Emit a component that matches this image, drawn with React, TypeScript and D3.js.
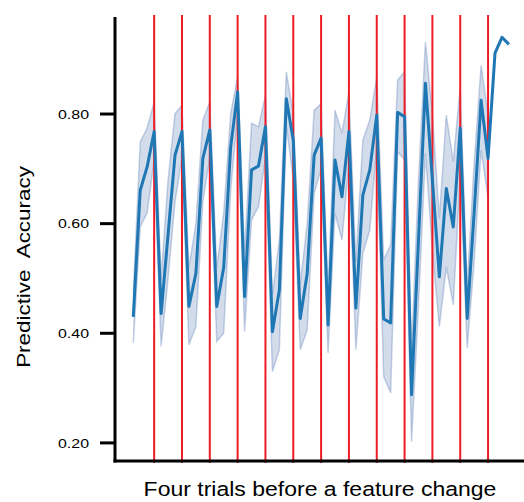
import React from "react";
import * as d3 from "d3";

// mean predictive accuracy per trial, with CI bounds
const meanAcc = [
    0.43, 0.661, 0.704, 0.768, 0.436, 0.58, 0.725, 0.768, 0.449, 0.509, 0.719,
    0.771, 0.449, 0.52, 0.74, 0.84, 0.467, 0.698, 0.705, 0.777, 0.403, 0.479,
    0.828, 0.752, 0.427, 0.509, 0.725, 0.756, 0.415, 0.716, 0.649, 0.768, 0.446,
    0.652, 0.698, 0.798, 0.426, 0.419, 0.803, 0.795, 0.288, 0.57, 0.856, 0.68,
    0.503, 0.664, 0.594, 0.774, 0.427, 0.62, 0.825, 0.719, 0.911, 0.94, 0.927,
];
const lowerAcc = [
    0.382, 0.594, 0.62, 0.716, 0.376, 0.5, 0.64, 0.72, 0.379, 0.412, 0.64, 0.72,
    0.385, 0.4, 0.66, 0.8, 0.403, 0.607, 0.631, 0.72, 0.33, 0.37, 0.78, 0.68,
    0.37, 0.406, 0.655, 0.7, 0.364, 0.619, 0.57, 0.71, 0.37, 0.546, 0.588, 0.74,
    0.321, 0.291, 0.731, 0.716, 0.202, 0.45, 0.728, 0.55, 0.412, 0.521, 0.452,
    0.69, 0.373, 0.53, 0.734, 0.646,
];
const upperAcc = [
    0.475, 0.749, 0.775, 0.822, 0.5, 0.68, 0.801, 0.816, 0.52, 0.6, 0.789, 0.822,
    0.52, 0.62, 0.8, 0.868, 0.55, 0.783, 0.777, 0.834, 0.47, 0.57, 0.877, 0.8,
    0.49, 0.6, 0.807, 0.819, 0.48, 0.807, 0.765, 0.84, 0.53, 0.752, 0.789, 0.868,
    0.534, 0.561, 0.862, 0.877, 0.37, 0.68, 0.932, 0.8, 0.61, 0.798, 0.713, 0.85,
    0.485, 0.71, 0.889, 0.8,
];
// trial index of each feature change
const changeTrials = [3, 7, 11, 15, 19, 23, 27, 31, 35, 39, 43, 47, 51];
const yTicks = [0.2, 0.4, 0.6, 0.8];

const W = 524,
    H = 502;
const blue = "#1f77b4";
const band = "#4c72b0";
const sx = 1.18; // text in the reference is stretched along its length

export default function App() {
    const x = d3.scaleLinear().domain([-2.7, 56.7]).range([114.5, 527.7]);
    const y = d3.scaleLinear().domain([0.167, 0.977]).range([461, 17]);

    const pts = meanAcc.map((v, i) => ({ i, v }));
    const ci = lowerAcc.map((lo, i) => ({ i, lo, hi: upperAcc[i] }));

    const line = d3
        .line<{ i: number; v: number }>()
        .x((d) => x(d.i))
        .y((d) => y(d.v));
    const area = d3
        .area<{ i: number; lo: number; hi: number }>()
        .x((d) => x(d.i))
        .y0((d) => y(d.lo))
        .y1((d) => y(d.hi));
    const loLine = d3
        .line<{ i: number; lo: number }>()
        .x((d) => x(d.i))
        .y((d) => y(d.lo));
    const hiLine = d3
        .line<{ i: number; hi: number }>()
        .x((d) => x(d.i))
        .y((d) => y(d.hi));

    const [yTop, yBot] = y.range().slice().reverse();

    return (
        <svg
            width={W}
            height={H}
            style={{ position: "absolute", left: 0, top: 0, background: "#fff" }}
            fontFamily="Liberation Sans, Arial, sans-serif"
        >
            <path d={area(ci) || ""} fill={band} fillOpacity={0.25} />
            <path d={loLine(ci) || ""} fill="none" stroke={band} strokeOpacity={0.3} strokeWidth={1.5} />
            <path d={hiLine(ci) || ""} fill="none" stroke={band} strokeOpacity={0.3} strokeWidth={1.5} />

            {changeTrials.map((t) => (
                <line
                    key={t}
                    x1={x(t)}
                    x2={x(t)}
                    y1={yBot + 2}
                    y2={yTop - 2}
                    stroke="#ee1c25"
                    strokeWidth={2}
                />
            ))}

            <path d={line(pts) || ""} fill="none" stroke={blue} strokeWidth={3} strokeLinejoin="round" />

            {/* spines */}
            <line x1={115} x2={115} y1={yTop} y2={yBot + 1.5} stroke="#000" strokeWidth={3} />
            <line x1={113.5} x2={W} y1={yBot} y2={yBot} stroke="#000" strokeWidth={3} />

            {yTicks.map((t) => (
                <g key={t}>
                    <line x1={100} x2={114} y1={y(t)} y2={y(t)} stroke="#000" strokeWidth={3} />
                    <text
                        transform={`translate(89,${y(t)}) scale(${sx},1)`}
                        textAnchor="end"
                        dy="0.35em"
                        fontSize={13.5}
                    >
                        {t.toFixed(2)}
                    </text>
                </g>
            ))}

            <text
                transform={`translate(320,496) scale(${sx},1)`}
                textAnchor="middle"
                fontSize={19.5}
            >
                Four trials before a feature change
            </text>
            <text
                transform={`translate(30,267) rotate(-90) scale(${sx},1)`}
                textAnchor="middle"
                fontSize={19}
                style={{ whiteSpace: "pre" }}
            >
                {"Predictive  Accuracy"}
            </text>
        </svg>
    );
}
